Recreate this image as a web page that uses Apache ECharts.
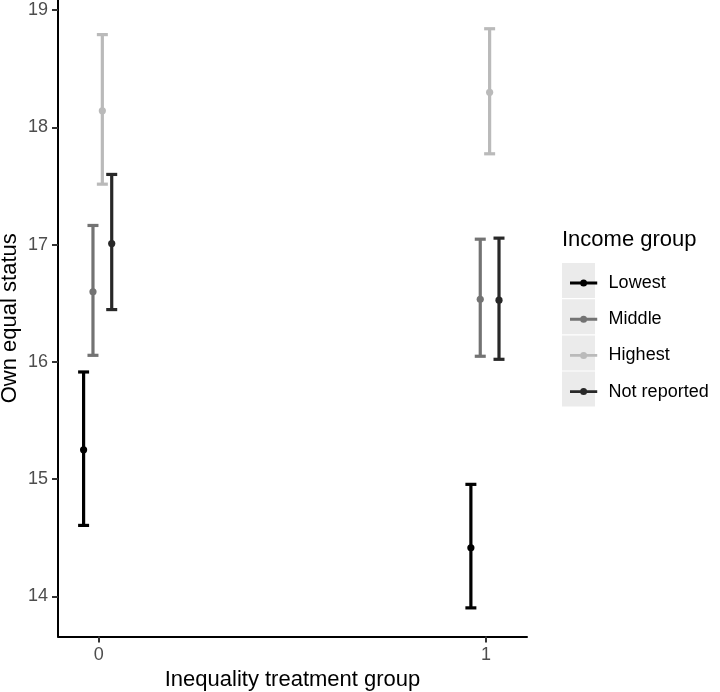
<!DOCTYPE html>
<html>
<head>
<meta charset="utf-8">
<script src="https://cdn.jsdelivr.net/npm/echarts@6.0.0/dist/echarts.min.js"></script>
<style>html,body{margin:0;padding:0;background:#fff}#c{width:720px;height:692px}</style>
</head>
<body>
<div id="c"></div>
<script>
// ---- data ----
var categories = [0, 1];
var groups = ['Lowest', 'Middle', 'Highest', 'Not reported'];
var meanLowest = [15.25, 14.415];
var meanMiddle = [16.597, 16.534];
var meanHighest = [18.141, 18.298];
var meanNotReported = [17.009, 16.526];
var lowerLowest = [14.606, 13.903];
var lowerMiddle = [16.056, 16.048];
var lowerHighest = [17.515, 17.774];
var lowerNotReported = [16.446, 16.022];
var upperLowest = [15.914, 14.956];
var upperMiddle = [17.163, 17.046];
var upperHighest = [18.79, 18.84];
var upperNotReported = [17.598, 17.055];
var yTicks = [14, 15, 16, 17, 18, 19];
var xTicks = [0, 1];

var means = [meanLowest, meanMiddle, meanHighest, meanNotReported];
var lowers = [lowerLowest, lowerMiddle, lowerHighest, lowerNotReported];
var uppers = [upperLowest, upperMiddle, upperHighest, upperNotReported];
var colors = ['#000000', '#737373', '#bababa', '#282828'];
var dodgeStep = 0.0242, dodgeCenter = -0.0026;
var FONT = 'Liberation Sans, Arial, Helvetica, sans-serif';

function renderItem(params, api) {
  var x = api.value(0), m = api.value(1), lo = api.value(2), hi = api.value(3);
  var p = api.coord([x, m]), pl = api.coord([x, lo]), ph = api.coord([x, hi]);
  var col = api.visual('color');
  var cw = 5.5;
  var ls = {stroke: col, lineWidth: 3.2};
  return {type: 'group', children: [
    {type: 'line', shape: {x1: p[0], y1: pl[1], x2: p[0], y2: ph[1]}, style: ls},
    {type: 'line', shape: {x1: p[0] - cw, y1: ph[1], x2: p[0] + cw, y2: ph[1]}, style: ls},
    {type: 'line', shape: {x1: p[0] - cw, y1: pl[1], x2: p[0] + cw, y2: pl[1]}, style: ls},
    {type: 'circle', shape: {cx: p[0], cy: p[1], r: 3.6}, style: {fill: col}}
  ]};
}

var series = groups.map(function (g, gi) {
  var off = dodgeCenter + (gi - 1.5) * dodgeStep;
  return {
    name: g, type: 'custom', renderItem: renderItem,
    itemStyle: {color: colors[gi]},
    encode: {x: 0, y: [1, 2, 3]},
    data: categories.map(function (c, ci) {
      return [c + off, means[gi][ci], lowers[gi][ci], uppers[gi][ci]];
    })
  };
});

var chart = echarts.init(document.getElementById('c'), null, {renderer: 'canvas'});
var keyRects = groups.map(function (g, i) {
  return {type: 'rect', left: 562, top: 263 + i * 36.2, shape: {width: 33, height: 35}, style: {fill: '#ebebeb'}, z: 0};
});
chart.setOption({
  animation: false,
  backgroundColor: '#fff',
  grid: {left: 58, right: 193, top: 0, bottom: 55.5, outerBoundsMode: 'none', containLabel: false},
  xAxis: {
    type: 'value', min: -0.105, max: 1.106,
    name: 'Inequality treatment group', nameLocation: 'middle', nameGap: 32, nameMoveOverlap: false,
    nameTextStyle: {fontSize: 22, color: '#000', fontFamily: FONT},
    axisLine: {show: true, onZero: false, lineStyle: {color: '#000', width: 2}},
    axisTick: {show: true, length: 6, lineStyle: {color: '#333', width: 2}, customValues: xTicks},
    axisLabel: {fontSize: 18, color: '#4d4d4d', margin: 10, fontFamily: FONT, customValues: xTicks},
    splitLine: {show: false}
  },
  yAxis: {
    type: 'value', min: 13.659, max: 19.085,
    name: 'Own equal status', nameLocation: 'middle', nameGap: 37, nameRotate: 90, nameMoveOverlap: false,
    nameTextStyle: {fontSize: 22, color: '#000', fontFamily: FONT},
    axisLine: {show: true, onZero: false, lineStyle: {color: '#000', width: 2}},
    axisTick: {show: true, length: 6, lineStyle: {color: '#333', width: 2}, customValues: yTicks},
    axisLabel: {fontSize: 18, color: '#4d4d4d', margin: 10, fontFamily: FONT, customValues: yTicks},
    splitLine: {show: false}
  },
  legend: {
    orient: 'vertical', left: 565, top: 268,
    data: groups,
    itemWidth: 28, itemHeight: 7, itemGap: 16.2,
    icon: 'path://M0,2h28v3H0z M10.4,3.5a3.6,3.6 0 1 1 7.2,0a3.6,3.6 0 1 1 -7.2,0z',
    textStyle: {fontSize: 18, color: '#000', fontFamily: FONT, lineHeight: 20, padding: [0, 0, 0, 6]},
    selectedMode: false
  },
  graphic: keyRects.concat([
    {type: 'text', left: 562, top: 229, style: {text: 'Income group', font: '22px ' + FONT, fill: '#000'}}
  ]),
  series: series
});
</script>
</body>
</html>
